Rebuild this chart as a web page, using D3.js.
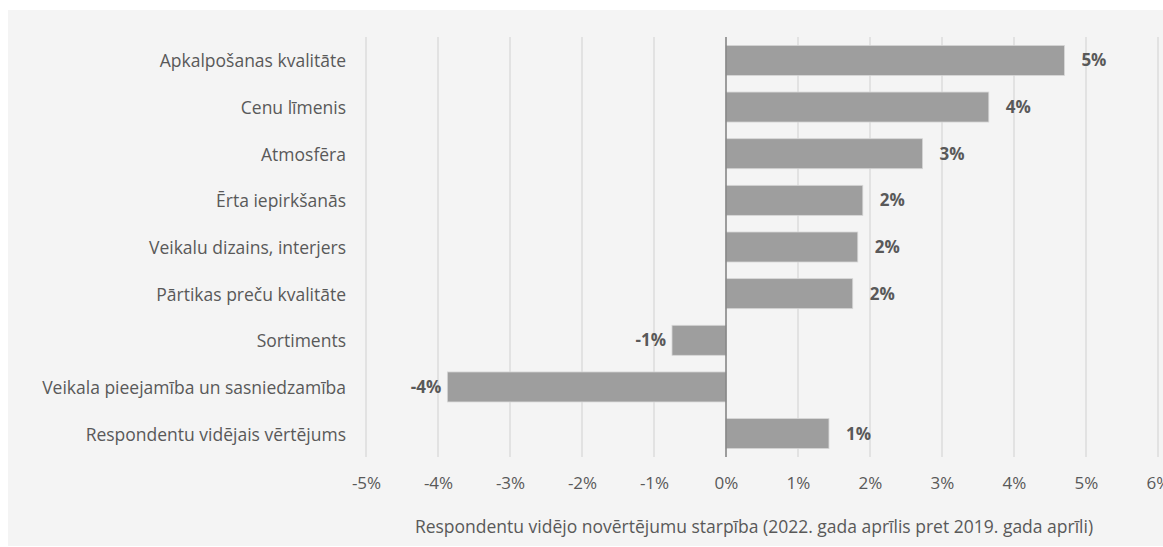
<!DOCTYPE html>
<html>
<head>
<meta charset="utf-8">
<script src="https://cdn.jsdelivr.net/npm/d3@7"></script>
<style>
  html, body { margin: 0; padding: 0; background: #ffffff; }
  svg { display: block; }
  text { font-family: "Open Sans", Lato, sans-serif; fill: #595959; }
</style>
</head>
<body>
<svg id="chart" width="1163" height="547"></svg>
<script>
// Categories, top to bottom
const categories = [
  "Apkalpošanas kvalitāte",
  "Cenu līmenis",
  "Atmosfēra",
  "Ērta iepirkšanās",
  "Veikalu dizains, interjers",
  "Pārtikas preču kvalitāte",
  "Sortiments",
  "Veikala pieejamība un sasniedzamība",
  "Respondentu vidējais vērtējums"
];
// Change in average rating (share, 2022 vs 2019)
const values = [0.047, 0.0365, 0.0273, 0.019, 0.0183, 0.0176, -0.0075, -0.0387, 0.0143];
// Axis ticks
const tickValues = [-0.05, -0.04, -0.03, -0.02, -0.01, 0, 0.01, 0.02, 0.03, 0.04, 0.05, 0.06];
const axisTitle = "Respondentu vidējo novērtējumu starpība (2022. gada aprīlis pret 2019. gada aprīli)";

const FONT = "'Open Sans', Lato, sans-serif";
const svg = d3.select("#chart");
const W = 1163;
const plot = { left: 366, right: 1158, top: 37, bottom: 457 };

svg.append("rect")
  .attr("x", 8).attr("y", 10)
  .attr("width", W - 8).attr("height", 536)
  .attr("fill", "#f4f4f4");

const x = d3.scaleLinear().domain([-0.05, 0.06]).range([plot.left, plot.right]);
const y = d3.scaleBand().domain(categories).range([plot.top, plot.bottom]).paddingInner(0.357).paddingOuter(0.18);

// Percent format with a plain hyphen for negatives
const locale = d3.formatLocale({ decimal: ".", thousands: ",", grouping: [3], currency: ["", ""], minus: "-" });
const pct = locale.format(".0%");

// Vertical gridlines
svg.append("g").selectAll("line")
  .data(tickValues.filter(t => t !== 0))
  .join("line")
  .attr("x1", d => x(d)).attr("x2", d => x(d))
  .attr("y1", plot.top).attr("y2", plot.bottom)
  .attr("stroke", "#d9d9d9").attr("stroke-width", 1.3);

// Bars
svg.append("g").selectAll("rect")
  .data(values)
  .join("rect")
  .attr("x", d => Math.min(x(0), x(d)))
  .attr("y", (d, i) => y(categories[i]))
  .attr("width", d => Math.abs(x(d) - x(0)))
  .attr("height", y.bandwidth())
  .attr("fill", "#9e9e9e")
  .attr("stroke", "#d6d6d6").attr("stroke-width", 0.8);

// Zero line
svg.append("line")
  .attr("x1", x(0)).attr("x2", x(0))
  .attr("y1", plot.top).attr("y2", plot.bottom)
  .attr("stroke", "#7f7f7f").attr("stroke-width", 1.5);

// Value labels
svg.append("g").selectAll("text")
  .data(values)
  .join("text")
  .attr("x", d => d >= 0 ? x(d) + 17 : x(d) - 6)
  .attr("y", (d, i) => y(categories[i]) + y.bandwidth() / 2)
  .attr("dy", "0.35em")
  .attr("text-anchor", d => d >= 0 ? "start" : "end")
  .attr("font-size", 17)
  .attr("font-weight", "bold")
  .attr("fill", "#666666")
  .text(d => pct(d));

// Category axis labels
const yAxis = d3.axisLeft(y).tickSize(0).tickPadding(0);
const gy = svg.append("g").attr("transform", `translate(${plot.left - 20},0)`).call(yAxis);
gy.select(".domain").remove();
gy.selectAll("text").attr("font-size", 17.5).attr("fill", "#595959").attr("dy", "0.4em")
  .style("font-family", FONT);

// Value axis labels
const xAxis = d3.axisBottom(x).tickValues(tickValues).tickFormat(pct).tickSize(0).tickPadding(0);
const gx = svg.append("g").attr("transform", `translate(0,${plot.bottom + 26})`).call(xAxis);
gx.select(".domain").remove();
gx.selectAll("text").attr("font-size", 17).attr("fill", "#595959").attr("dy", "0.35em")
  .style("font-family", FONT);

// Axis title
svg.append("text")
  .attr("x", 754).attr("y", 527)
  .attr("dy", "0.35em")
  .attr("text-anchor", "middle")
  .attr("font-size", 17.5)
  .text(axisTitle);
</script>
</body>
</html>
